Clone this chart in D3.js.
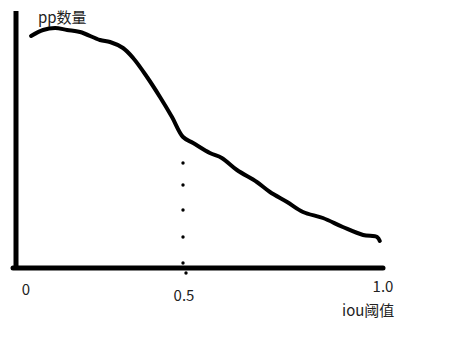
<!DOCTYPE html>
<html><head><meta charset="utf-8">
<script src="https://cdn.jsdelivr.net/npm/d3@7"></script>
<style>html,body{margin:0;padding:0;background:#fff;}svg{display:block;}</style>
</head><body>
<script>
// curve data (x = iou threshold, y = pp count, arbitrary units)
const iouValues = [0.016,0.054,0.092,0.130,0.171,0.234,0.266,0.307,0.339,0.383,0.424,0.462,0.497,0.523,0.565,0.595,0.633,0.683,0.716,0.759,0.799,0.849,0.899,0.950,0.985,0.992];
const ppValues  = [232,238,240,238,236,228,226,220,210,191,171,151,131,125,115,110,98,86,76,66,56,50,41,33,31,27];
const tickValues = [0, 0.5, 1.0];
const tickLabels = ["0", "0.5", "1.0"];
const markerX = 0.5;
const markerDots = [105, 83, 58, 31, 5, -5];
const yLabel = "pp数量";
const xLabel = "iou阈值";

const W = 475, H = 347;
const svg = d3.select("body").append("svg").attr("width", W).attr("height", H);
const font = "'Noto Sans CJK SC','Noto Sans',sans-serif";

// hand-drawn axis: piecewise linear x scale
const x = d3.scaleLinear().domain([0, 0.5, 1]).range([26, 184, 383]);
const y = d3.scaleLinear().domain([0, 250]).range([268, 18]);

// y axis line
svg.append("line").attr("x1", 16).attr("x2", 16).attr("y1", 11).attr("y2", 270)
  .attr("stroke", "#000").attr("stroke-width", 5);
// x axis line
svg.append("line").attr("x1", 13).attr("x2", 383).attr("y1", y(0)).attr("y2", y(0))
  .attr("stroke", "#000").attr("stroke-width", 5).attr("stroke-linecap", "round");

// dotted marker at 0.5
svg.selectAll("circle.dot").data(markerDots).enter().append("circle")
  .attr("class", "dot")
  .attr("cx", (d, i) => x(markerX) - (i === markerDots.length - 1 ? -2 : 1))
  .attr("cy", d => y(d)).attr("r", 1.7).attr("fill", "#000");

// curve
const line = d3.line().x((d, i) => x(d)).y((d, i) => y(ppValues[i])).curve(d3.curveCatmullRom);
svg.append("path").datum(iouValues).attr("d", line)
  .attr("fill", "none").attr("stroke", "#000").attr("stroke-width", 4)
  .attr("stroke-linejoin", "round").attr("stroke-linecap", "round");

// tick labels
const labelY = [295, 301, 292];
svg.selectAll("text.tick").data(tickValues).enter().append("text")
  .attr("class", "tick")
  .attr("x", d => x(d)).attr("y", (d, i) => labelY[i])
  .attr("text-anchor", "middle").attr("font-family", font).attr("font-size", 15)
  .attr("fill", "#222").text((d, i) => tickLabels[i]);

// axis titles
svg.append("text").attr("x", 38).attr("y", 23).attr("font-family", font).attr("font-size", 15)
  .attr("fill", "#222").text(yLabel);
svg.append("text").attr("x", 342).attr("y", 316).attr("font-family", font).attr("font-size", 15)
  .attr("fill", "#222").text(xLabel);
</script>
</body></html>
